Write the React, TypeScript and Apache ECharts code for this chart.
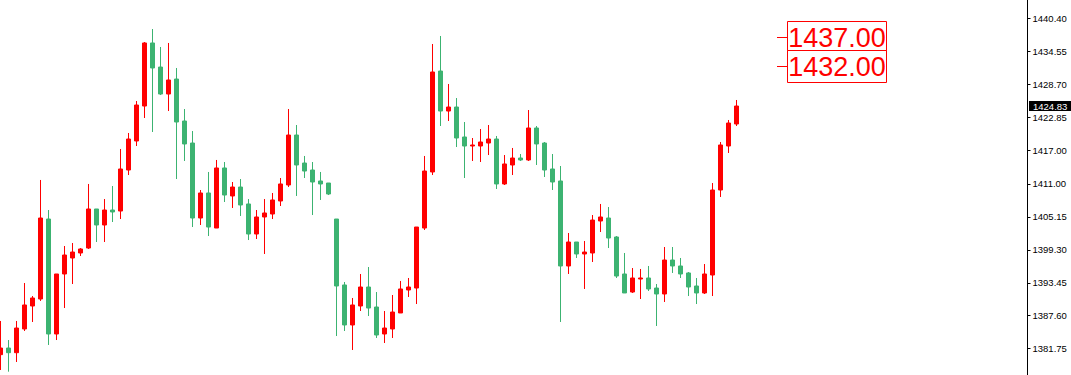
import React, { useEffect, useRef } from "react";
import * as echarts from "echarts";

const opens = [
  1380.69, 1381.87, 1381.04, 1385.25, 1389.33, 1390.57, 1404.77, 1384.36, 1395.01, 1397.85,
  1398.74, 1399.62, 1406.55, 1403.71, 1406.37, 1406.19, 1413.47, 1418.62, 1424.83, 1436.02,
  1431.75, 1426.96, 1429.62, 1422.17, 1418.26, 1404.95, 1409.39, 1403.17, 1413.83, 1408.86,
  1410.45, 1407.44, 1402.11, 1405.13, 1405.66, 1407.97, 1410.81, 1419.68, 1414.71, 1413.47,
  1411.52, 1411.16, 1404.77, 1393.06, 1385.96, 1389.33, 1392.7, 1389.15, 1384.36, 1385.25,
  1388.09, 1392.17, 1392.52, 1403.17, 1413.12, 1431.04, 1423.94, 1424.65, 1419.33, 1417.73,
  1417.73, 1418.26, 1418.97, 1410.99, 1414.36, 1415.6, 1415.25, 1420.93, 1418.26, 1413.65,
  1411.52, 1396.43, 1400.69, 1398.56, 1398.74, 1404.42, 1404.95, 1401.58, 1395.01, 1391.81,
  1394.12, 1394.3, 1392.52, 1391.46, 1397.49, 1396.43, 1395.19, 1392.88, 1391.64, 1394.83,
  1409.92, 1417.73, 1421.64,
];
const closes = [
  1381.87, 1381.04, 1385.42, 1389.51, 1390.75, 1404.95, 1384.36, 1395.01, 1398.38, 1398.91,
  1399.45, 1406.55, 1403.71, 1406.37, 1406.02, 1413.65, 1418.97, 1425.01, 1436.02, 1431.58,
  1426.96, 1429.45, 1421.99, 1418.09, 1404.95, 1409.39, 1403.35, 1413.83, 1409.03, 1410.45,
  1407.26, 1402.11, 1405.13, 1405.84, 1408.15, 1410.99, 1419.68, 1414.36, 1413.29, 1411.34,
  1410.99, 1409.21, 1392.88, 1385.96, 1389.51, 1392.7, 1388.97, 1384.18, 1385.42, 1388.26,
  1392.35, 1392.7, 1403.35, 1413.29, 1430.87, 1423.94, 1424.65, 1419.15, 1417.73, 1417.91,
  1418.44, 1418.97, 1410.99, 1414.54, 1415.6, 1415.25, 1420.93, 1418.09, 1413.47, 1411.34,
  1396.43, 1400.69, 1398.56, 1398.91, 1404.59, 1405.13, 1401.4, 1394.65, 1391.64, 1394.3,
  1394.3, 1392.35, 1391.46, 1397.49, 1396.43, 1395.01, 1392.7, 1391.64, 1395.01, 1409.92,
  1417.91, 1421.81, 1424.83,
];
const lows = [
  1377.97, 1377.67, 1379.39, 1384.89, 1386.49, 1390.22, 1382.41, 1383.29, 1388.97, 1393.23,
  1398.2, 1399.45, 1400.69, 1400.69, 1404.24, 1404.77, 1412.58, 1417.73, 1422.7, 1420.22,
  1426.78, 1423.94, 1411.87, 1415.07, 1403.35, 1403.71, 1401.75, 1403.17, 1407.79, 1406.73,
  1405.31, 1401.04, 1401.22, 1398.56, 1404.77, 1407.08, 1410.45, 1408.86, 1412.05, 1405.48,
  1408.15, 1409.03, 1384.0, 1384.89, 1381.52, 1388.44, 1387.55, 1383.65, 1382.76, 1383.65,
  1388.09, 1390.93, 1389.68, 1402.82, 1412.58, 1421.28, 1422.17, 1417.55, 1412.05, 1415.07,
  1414.89, 1416.13, 1410.1, 1410.81, 1412.58, 1415.07, 1415.07, 1414.36, 1412.23, 1409.92,
  1386.49, 1395.01, 1397.85, 1392.35, 1397.14, 1402.46, 1399.62, 1394.3, 1391.64, 1391.64,
  1390.57, 1391.99, 1385.78, 1390.04, 1395.19, 1394.3, 1391.1, 1389.68, 1391.46, 1391.1,
  1408.68, 1416.49, 1421.28,
];
const highs = [
  1386.67, 1383.29, 1386.67, 1393.41, 1391.1, 1411.7, 1406.37, 1395.01, 1399.98, 1400.51,
  1399.62, 1410.99, 1406.55, 1408.32, 1410.63, 1417.2, 1420.04, 1425.72, 1436.19, 1438.5,
  1435.31, 1436.02, 1431.58, 1424.3, 1420.39, 1409.92, 1413.12, 1415.25, 1414.89, 1411.34,
  1411.87, 1408.32, 1406.37, 1408.32, 1409.39, 1412.05, 1424.3, 1421.46, 1415.96, 1414.89,
  1413.12, 1411.16, 1404.77, 1393.59, 1390.75, 1395.01, 1396.25, 1391.81, 1388.44, 1391.28,
  1393.77, 1394.3, 1403.35, 1415.96, 1435.84, 1437.26, 1428.74, 1426.25, 1421.99, 1419.15,
  1420.75, 1421.46, 1419.51, 1416.13, 1417.38, 1416.31, 1424.12, 1421.28, 1418.44, 1416.31,
  1414.18, 1402.29, 1400.69, 1400.87, 1405.48, 1407.44, 1406.9, 1401.75, 1398.74, 1396.07,
  1395.9, 1396.43, 1393.23, 1399.8, 1399.8, 1397.85, 1395.36, 1394.3, 1396.78, 1411.16,
  1418.44, 1422.35, 1425.9,
];

const yTickLabels = [
  "1381.75", "1387.60", "1393.45", "1399.30", "1405.15", "1411.00",
  "1417.00", "1422.85", "1428.70", "1434.55", "1440.40",
];
const levelPrices = [1437.0, 1432.0];
const levelLabels = ["1437.00", "1432.00"];
const slotCount = 129;
const levelAnchorIndex = 97;

const UP = "#ff0000";
const DOWN = "#3cb371";

export default function App() {
  const ref = useRef<HTMLDivElement>(null);
  useEffect(() => {
    if (!ref.current) return;
    const chart = echarts.init(ref.current, undefined, { renderer: "svg" });
    const categories = Array.from({ length: slotCount }, (_, i) => String(i));
    const candleData = opens.map((o, i) => [o, closes[i], lows[i], highs[i]]);
    const tickValues = yTickLabels.map(Number);
    const font = "'Liberation Sans', Arial, sans-serif";

    chart.setOption({
      animation: false,
      backgroundColor: "#ffffff",
      grid: { left: 0.5, right: 46.5, top: 0, bottom: 0, containLabel: false },
      xAxis: {
        type: "category",
        data: categories,
        boundaryGap: false,
        axisLine: { show: false },
        axisTick: { show: false },
        axisLabel: { show: false },
        splitLine: { show: false },
      },
      yAxis: {
        type: "value",
        position: "right",
        offset: 3,
        min: 1377.08,
        max: 1443.65,
        splitLine: { show: false },
        axisLine: { show: true, lineStyle: { color: "#000", width: 1 } },
        axisTick: {
          show: true,
          length: 3,
          lineStyle: { color: "#000" },
          customValues: tickValues,
        },
        axisLabel: {
          show: true,
          customValues: tickValues,
          formatter: (v: number) => {
            const idx = tickValues.indexOf(v);
            return idx >= 0 ? yTickLabels[idx] : v.toFixed(2);
          },
          color: "#000",
          fontSize: 9.5,
          fontFamily: font,
          margin: 5,
        },
      },
      series: [
        {
          type: "candlestick",
          data: candleData,
          barWidth: 4,
          itemStyle: {
            color: UP,
            color0: DOWN,
            borderColor: UP,
            borderColor0: DOWN,
            borderWidth: 1,
          },
        },
      ],
    });

    const lastPrice = closes[closes.length - 1];
    const pyLast = chart.convertToPixel({ yAxisIndex: 0 }, lastPrice) as number;
    const graphics: any[] = [];
    const axisX = 1071 - 46.5 + 3;
    graphics.push({
      type: "rect",
      shape: { x: axisX + 1.5, y: Math.round(pyLast) - 5, width: 1071 - axisX, height: 10 },
      style: { fill: "#000" },
      z: 100,
    });
    graphics.push({
      type: "text",
      x: axisX + 5.5,
      y: pyLast,
      style: {
        text: lastPrice.toFixed(2),
        fill: "#fff",
        fontSize: 9.5,
        fontFamily: font,
        textVerticalAlign: "middle",
        verticalAlign: "middle",
      },
      z: 101,
    });

    levelPrices.forEach((p, k) => {
      const pt = chart.convertToPixel({ xAxisIndex: 0, yAxisIndex: 0 }, [levelAnchorIndex, p]) as number[];
      const x0 = pt[0] + 0.5;
      const py = pt[1];
      const yc = Math.round(py) + 0.5;
      graphics.push({
        type: "line",
        shape: { x1: x0, y1: yc, x2: x0 + 10, y2: yc },
        style: { stroke: UP, lineWidth: 1 },
        z: 50 + k * 3,
      });
      graphics.push({
        type: "rect",
        shape: { x: x0 + 10.5, y: Math.round(py - 16) + 0.5, width: 99, height: 32 },
        style: { fill: "#fff", stroke: UP, lineWidth: 1 },
        z: 51 + k * 3,
      });
      graphics.push({
        type: "text",
        x: x0 + 10.5 + 49.5,
        y: py + 1,
        style: {
          text: levelLabels[k],
          fill: UP,
          fontSize: 27,
          fontFamily: font,
          align: "center",
          verticalAlign: "middle",
        },
        z: 52 + k * 3,
      });
    });

    chart.setOption({ graphic: graphics });

    return () => chart.dispose();
  }, []);

  return (
    <div
      ref={ref}
      style={{ position: "fixed", left: 0, top: 0, width: 1071, height: 375, background: "#fff" }}
    />
  );
}
